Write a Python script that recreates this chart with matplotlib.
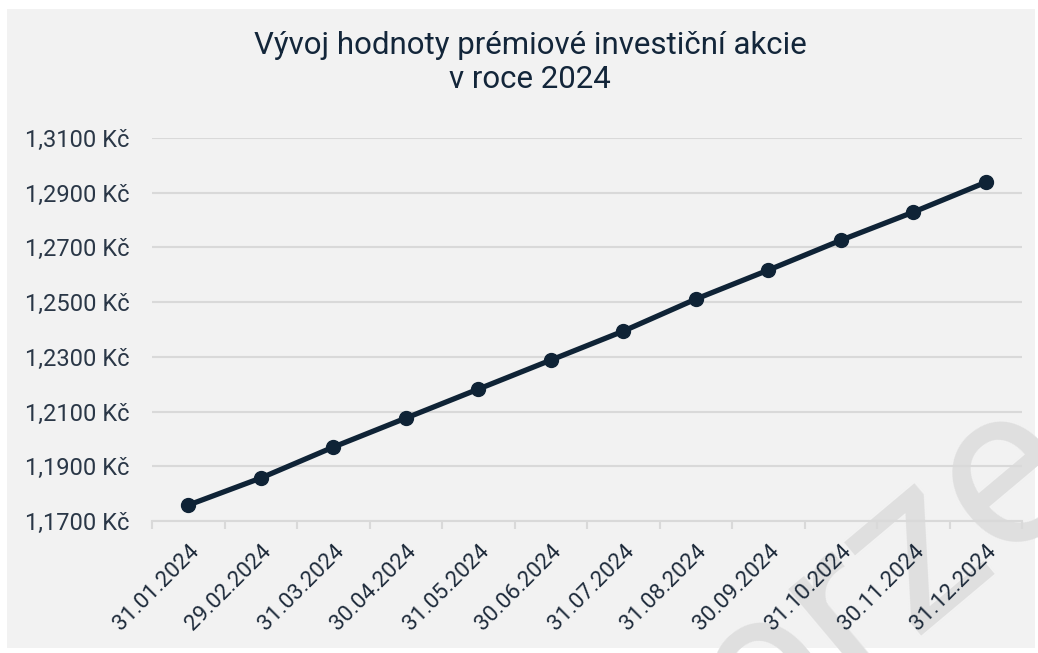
import matplotlib
matplotlib.use("Agg")
import matplotlib.pyplot as plt
from matplotlib.patches import Rectangle
from matplotlib.ticker import FuncFormatter, FixedLocator

dates = ["31.01.2024", "29.02.2024", "31.03.2024", "30.04.2024", "31.05.2024",
         "30.06.2024", "31.07.2024", "31.08.2024", "30.09.2024", "31.10.2024",
         "30.11.2024", "31.12.2024"]
values = [1.1758, 1.1857, 1.1970, 1.2076, 1.2182, 1.2288,
          1.2394, 1.2511, 1.2617, 1.2726, 1.2829, 1.2938]
y_ticks = [1.17, 1.19, 1.21, 1.23, 1.25, 1.27, 1.29, 1.31]
title = "Vývoj hodnoty prémiové investiční akcie\nv roce 2024"

plt.rcParams['font.family'] = ['Roboto', 'DejaVu Sans']

TEXT = "#13263a"
LINE = "#0f2336"
GRID = "#d9d9d9"
BG = "#f2f2f2"

W, H = 1038, 653
fig = plt.figure(figsize=(W / 100, H / 100), dpi=100, facecolor="white")
fig.patches.append(Rectangle((7 / W, 1 - 648 / H), (1035 - 7) / W, (648 - 9) / H,
                             transform=fig.transFigure, facecolor=BG, edgecolor="none",
                             zorder=-3))

fig.text(845 / W, 1 - 615 / H, "verze", rotation=40, rotation_mode="anchor",
         ha="center", va="center", fontsize=165, color="#dfdfdf",
         fontweight="normal", zorder=-2)

ax = fig.add_axes([152 / W, 1 - 521 / H, (1022 - 152) / W, (521 - 138) / H])
ax.set_facecolor("none")
x = list(range(len(dates)))
ax.plot(x, values, color=LINE, linewidth=3.8, marker="o", markersize=10,
        markerfacecolor=LINE, markeredgecolor=LINE, zorder=3, clip_on=False)

ax.set_xlim(-0.5, len(dates) - 0.5)
ax.set_ylim(y_ticks[0], y_ticks[-1])
ax.set_yticks(y_ticks)
ax.yaxis.set_major_formatter(FuncFormatter(lambda v, p: f"{v:.4f}".replace(".", ",") + " Kč"))
ax.grid(axis="y", color=GRID, linewidth=1.5, zorder=0)
ax.set_axisbelow(True)

for s in ["top", "right", "left"]:
    ax.spines[s].set_visible(False)
ax.spines["bottom"].set_color(GRID)
ax.spines["bottom"].set_linewidth(1.5)

ax.set_xticks(x)
ax.set_xticklabels(dates, rotation=45, ha="right", rotation_mode="anchor",
                   fontsize=16, color="#1e2b3b")
ax.xaxis.set_minor_locator(FixedLocator([i - 0.5 for i in range(len(dates) + 1)]))
ax.tick_params(axis="x", which="major", length=0, pad=14)
ax.tick_params(axis="x", which="minor", length=6, width=1.5, color=GRID)
ax.tick_params(axis="y", length=0, pad=16, labelsize=17, labelcolor="#2a3747")

fig.text(530 / W, 1 - 31 / H, title, ha="center", va="top", fontsize=22.5,
         color=TEXT, linespacing=1.22)

fig.savefig("out.png", dpi=100, facecolor="white")
